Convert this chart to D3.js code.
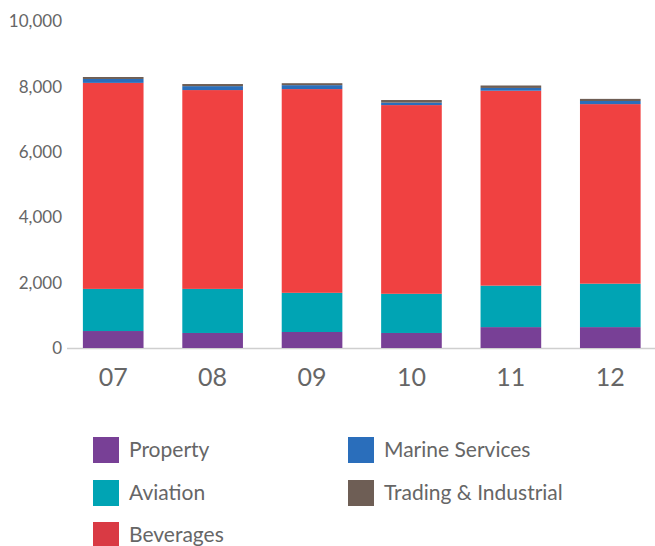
<!DOCTYPE html>
<meta charset="utf-8">
<style>
body { margin: 0; background: #fff; }
text { font-family: Lato, "Open Sans", sans-serif; fill: #666; }
</style>
<svg width="655" height="546"></svg>
<script src="https://d3js.org/d3.v7.min.js"></script>
<script>

var years = ["07", "08", "09", "10", "11", "12"];
var property = [520, 460, 490, 460, 640, 640];
var aviation = [1290, 1350, 1200, 1200, 1270, 1330];
var beverages = [6310, 6090, 6240, 5780, 5970, 5500];
var marine = [120, 120, 120, 75, 85, 95];
var trading = [60, 65, 60, 80, 75, 65];
var yTicks = [0, 2000, 4000, 6000, 8000, 10000];

var keys = ["Property", "Aviation", "Beverages", "Marine Services", "Trading & Industrial"];
var barColor = ["#784096", "#00a4b4", "#f04141", "#2a6ebb", "#6e5e55"];
var legendColor = ["#784096", "#00a4b4", "#d93a44", "#2a6ebb", "#6e5e55"];

var rows = years.map(function(y, i) {
  return {
    year: y,
    "Property": property[i],
    "Aviation": aviation[i],
    "Beverages": beverages[i],
    "Marine Services": marine[i],
    "Trading & Industrial": trading[i]
  };
});

var svg = d3.select("svg");

var x = d3.scaleBand()
    .domain(years)
    .range([63.5, 660])
    .paddingInner(0.39)
    .paddingOuter(0.195);

var y = d3.scaleLinear()
    .domain([0, 10000])
    .range([348, 21.5]);

var color = d3.scaleOrdinal().domain(keys).range(barColor);

var stack = d3.stack().keys(keys)(rows);

// baseline
svg.append("line")
    .attr("x1", 67).attr("x2", 655)
    .attr("y1", y(0) + 0.5).attr("y2", y(0) + 0.5)
    .attr("stroke", "#cfcfcf")
    .attr("stroke-width", 1.5);

svg.append("g")
  .selectAll("g")
  .data(stack)
  .enter().append("g")
    .attr("fill", function(d) { return color(d.key); })
  .selectAll("rect")
  .data(function(d) { return d; })
  .enter().append("rect")
    .attr("x", function(d) { return x(d.data.year); })
    .attr("y", function(d) { return y(d[1]); })
    .attr("height", function(d) { return y(d[0]) - y(d[1]); })
    .attr("width", x.bandwidth());

// y labels
svg.append("g")
  .selectAll("text")
  .data(yTicks)
  .enter().append("text")
    .attr("x", 62)
    .attr("y", function(d) { return y(d); })
    .attr("dy", "0.35em")
    .attr("text-anchor", "end")
    .style("font-size", "17px")
    .text(function(d) { return d3.format(",")(d); });

// x labels
svg.append("g")
  .selectAll("text")
  .data(years)
  .enter().append("text")
    .attr("x", function(d) { return x(d) + x.bandwidth() / 2; })
    .attr("y", 377)
    .attr("dy", "0.35em")
    .attr("text-anchor", "middle")
    .style("font-size", "25px")
    .text(function(d) { return d; });

// legend
var legendPos = [[93, 437], [93, 480], [93, 522], [348, 437], [348, 480]];

var legend = svg.append("g")
  .selectAll("g")
  .data(keys)
  .enter().append("g")
    .attr("transform", function(d, i) { return "translate(" + legendPos[i][0] + "," + legendPos[i][1] + ")"; });

legend.append("rect")
    .attr("width", 26)
    .attr("height", 26)
    .attr("fill", function(d, i) { return legendColor[i]; });

legend.append("text")
    .attr("x", 36)
    .attr("y", 13)
    .attr("dy", "0.35em")
    .style("font-size", "21px")
    .text(function(d) { return d; });

</script>
